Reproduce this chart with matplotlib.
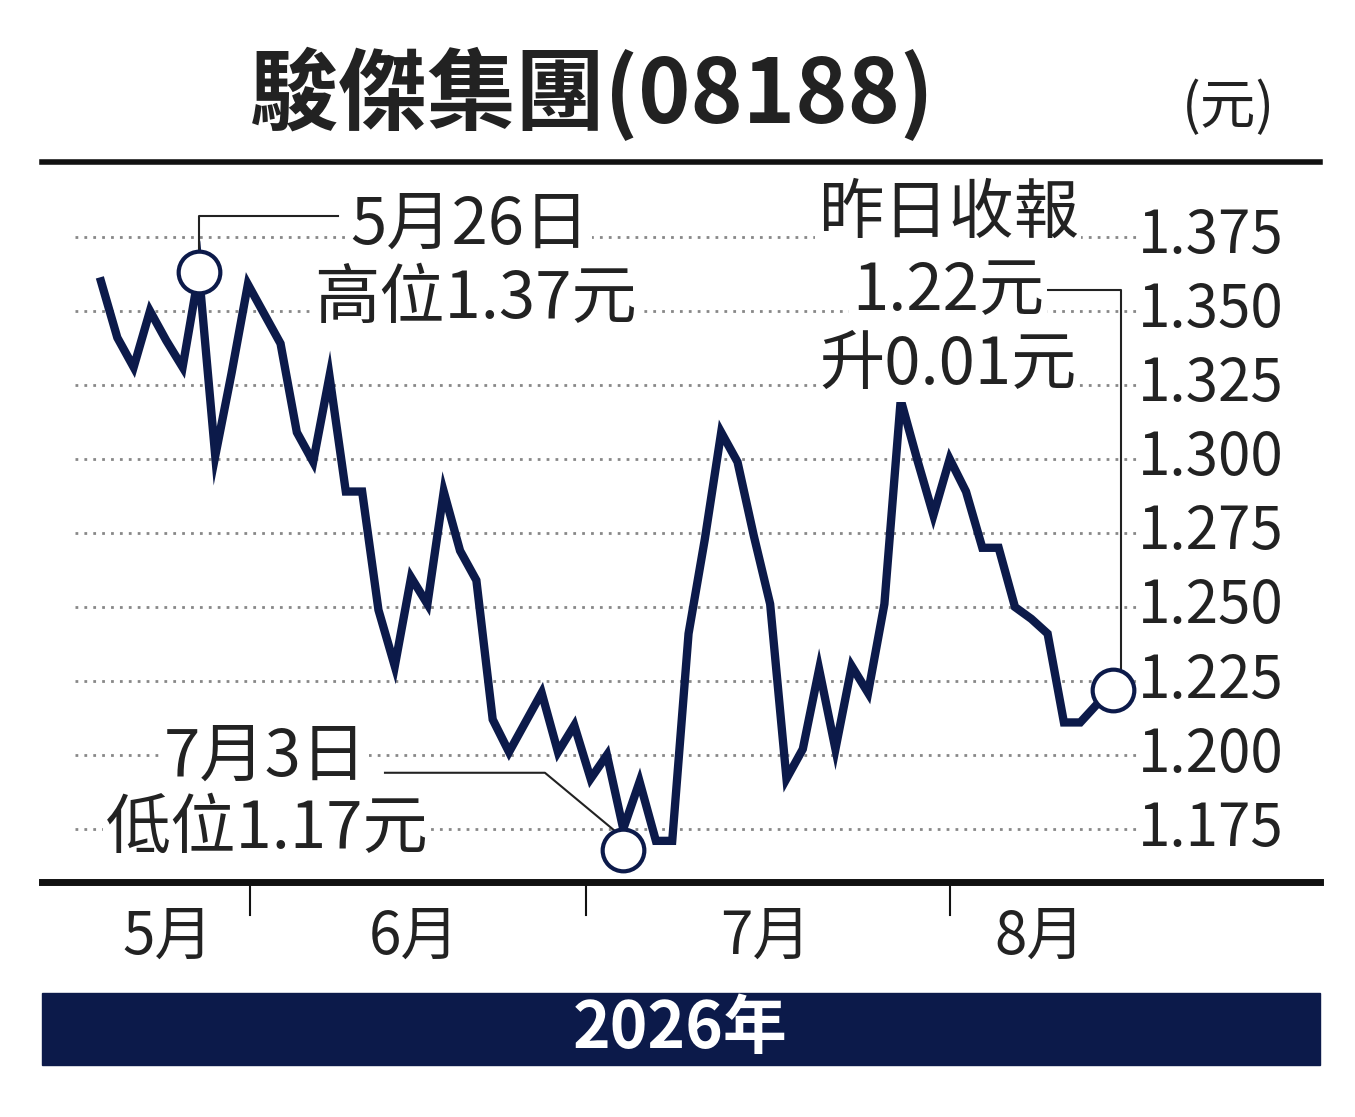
import numpy as np
import matplotlib.pyplot as plt
from matplotlib.patches import Rectangle

plt.rcParams['font.family'] = ['Noto Sans CJK TC', 'DejaVu Sans']

# daily closing price (HKD)
prices = [1.360, 1.341, 1.331, 1.350, 1.340, 1.331, 1.363, 1.301, 1.329, 1.359,
          1.349, 1.339, 1.309, 1.299, 1.328, 1.289, 1.289, 1.249, 1.230, 1.260,
          1.251, 1.289, 1.269, 1.259, 1.212, 1.201, 1.211, 1.221, 1.201, 1.210,
          1.192, 1.200, 1.175, 1.191, 1.171, 1.171, 1.241, 1.273, 1.309, 1.299,
          1.274, 1.251, 1.192, 1.202, 1.229, 1.202, 1.230, 1.221, 1.251, 1.320,
          1.300, 1.281, 1.300, 1.289, 1.270, 1.270, 1.250, 1.246, 1.241, 1.211,
          1.211, 1.217, 1.222]
yticks = [1.175, 1.200, 1.225, 1.250, 1.275, 1.300, 1.325, 1.350, 1.375]
months = ['5月', '6月', '7月', '8月']
month_pos = [4.1, 19.2, 40.7, 57.5]
month_breaks = [9.1, 29.7, 52.0]
hi_idx, lo_idx = 6, 32

W, H = 1355, 1117
NAVY = '#0c1a4a'
fig = plt.figure(figsize=(W / 100, H / 100), dpi=100)
fig.patch.set_facecolor('white')

def fx(px):
    return px / W

def fy(py):
    return 1 - py / H

ax = fig.add_axes([fx(42), fy(882), fx(1320) - fx(42), fy(160) - fy(882)])
ax.set_xlim(-3.615, 74.69)
ax.set_ylim(1.1571, 1.401)
ax.axis('off')

x = np.arange(len(prices))
for v in yticks:
    ax.plot([-1.6, 63.4], [v, v], ls=(0, (1, 2.2)), color='#888888', lw=2, zorder=1)
    ax.text(68.0, v, f'{v:.3f}', fontsize=42, ha='center', va='center', color='#222222')

ax.plot(x, prices, color=NAVY, lw=6, zorder=3, solid_joinstyle='miter')
ax.plot(hi_idx, prices[hi_idx], 'o', ms=30, mfc='white', mec=NAVY, mew=3, zorder=5)
ax.plot(lo_idx, 1.168, 'o', ms=30, mfc='white', mec=NAVY, mew=3, zorder=5)
ax.plot(len(prices) - 1, prices[-1], 'o', ms=30, mfc='white', mec=NAVY, mew=3, zorder=5)

# annotation leader lines
ax.plot([hi_idx, hi_idx, 14.5], [1.367, 1.382, 1.382], color='#222', lw=1.5, zorder=4)
ax.plot([62.5, 62.5, 58.0], [1.228, 1.357, 1.357], color='#222', lw=1.5, zorder=4)
ax.plot([17.4, 27.2, 32.0], [1.194, 1.194, 1.172], color='#222', lw=1.5, zorder=4)

def label(px, py, s, ha='center', size=47):
    ax.text((px - 101) / 16.32, 1.375 - (py - 237) / 2960, s, fontsize=size, ha=ha,
            va='center', color='#222', zorder=6,
            bbox=dict(facecolor='white', edgecolor='none', pad=2))

label(470, 225, '5月26日')
label(475, 300, '高位1.37元')
label(948, 215, '昨日收報')
label(948, 292, '1.22元')
label(948, 366, '升0.01元')
label(265, 757, '7月3日')
label(267, 830, '低位1.17元')

# axis rule and month ticks
ax.plot([-3.615, 74.69], [1.1571, 1.1571], color='#111', lw=5, clip_on=False)
for b in month_breaks:
    ax.plot([b, b], [1.1571, 1.1461], color='#111', lw=1.5, clip_on=False)
for m, p in zip(months, month_pos):
    ax.text(p, 1.1385, m, fontsize=42, ha='center', va='center', color='#222')

# header
fig.add_artist(plt.Line2D([fx(42), fx(1320)], [fy(162), fy(162)], color='#111', lw=4))
fig.text(fx(592), fy(95), '駿傑集團(08188)', fontsize=64, fontweight='bold',
         ha='center', va='center', color='#222')
fig.text(fx(1228), fy(108), '(元)', fontsize=40, ha='center', va='center', color='#222')

# year banner
fig.add_artist(Rectangle((fx(42), fy(1065)), fx(1320) - fx(42), fy(993) - fy(1065),
                         color=NAVY, transform=fig.transFigure))
fig.text(fx(680), fy(1029), '2026年', fontsize=46, fontweight='bold',
         ha='center', va='center', color='white')

fig.savefig('out.png', dpi=100)
